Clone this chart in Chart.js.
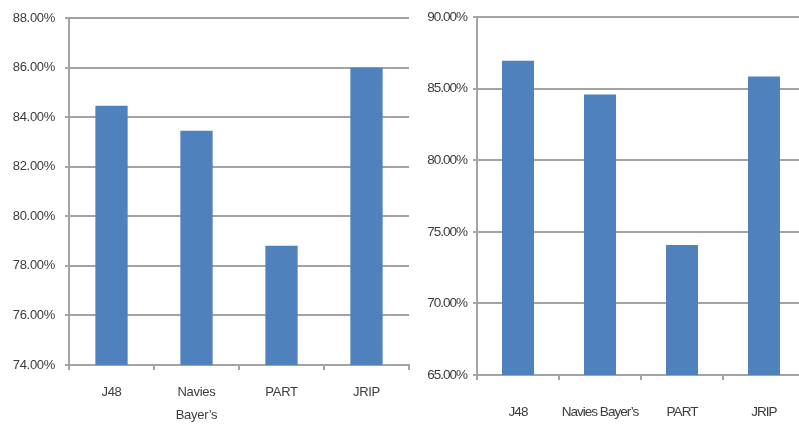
<!DOCTYPE html>
<html>
<head>
<meta charset="utf-8">
<script src="https://cdn.jsdelivr.net/npm/chart.js@4/dist/chart.umd.min.js"></script>
<style>
  html, body { margin: 0; padding: 0; background: #ffffff; overflow: hidden; width: 799px; height: 424px; }
  .box { position: absolute; top: 0; height: 424px; overflow: hidden; }
  #leftBox { left: 0; width: 415px; }
  #rightBox { left: 415px; width: 384px; }
</style>
</head>
<body>
<div class="box" id="leftBox"><canvas id="leftChart" width="415" height="424"></canvas></div>
<div class="box" id="rightBox"><canvas id="rightChart" width="390" height="424"></canvas></div>
<script>
// Classifier accuracy (%) for two evaluation runs
const leftCategories = ['J48', ['Navies', 'Bayer\u2019s'], 'PART', 'JRIP'];
const leftValues = [84.46, 83.45, 78.81, 86.0];
const leftTicks = { min: 74, max: 88, step: 2 };

const rightCategories = ['J48', 'Navies Bayer\u2019s', 'PART', 'JRIP'];
const rightValues = [86.94, 84.59, 74.08, 85.85];
const rightTicks = { min: 65, max: 90, step: 5 };

const BAR = '#4f81bd';
const GRID = '#a3a3a3';
const TEXT = '#3c3c3c';
const FONT = '"Liberation Sans", Arial, sans-serif';

// tighter letter spacing for the condensed axis text
function spacingPlugin(px) {
  return {
    id: 'spacing',
    beforeInit(chart) { chart.ctx.letterSpacing = px; },
    beforeLayout(chart) { chart.ctx.letterSpacing = px; },
    beforeDraw(chart) { chart.ctx.letterSpacing = px; }
  };
}

function makeChart(id, cats, vals, ticks, o) {
  return new Chart(document.getElementById(id), {
    type: 'bar',
    data: {
      labels: cats,
      datasets: [{ data: vals, backgroundColor: BAR, borderWidth: 0,
                   barPercentage: o.barPct, categoryPercentage: 1 }]
    },
    plugins: [spacingPlugin(o.spacing)],
    options: {
      responsive: false,
      animation: false,
      events: [],
      layout: { padding: o.padding },
      plugins: { legend: { display: false }, tooltip: { enabled: false } },
      scales: {
        x: {
          offset: true,
          grid: { display: true, offset: true, drawOnChartArea: false, drawTicks: true,
                  tickLength: 5, color: GRID, lineWidth: 2 },
          border: { display: true, color: GRID, width: 2 },
          ticks: { color: TEXT, font: { family: FONT, size: o.xFont, lineHeight: o.xLine },
                   padding: o.xPad, maxRotation: 0, autoSkip: false },
          afterFit: s => { s.height = o.xHeight; }
        },
        y: {
          min: ticks.min, max: ticks.max,
          grid: { color: GRID, lineWidth: 2, tickLength: 4, drawTicks: true },
          border: { display: true, color: GRID, width: 2 },
          ticks: { stepSize: ticks.step, color: TEXT, padding: o.yPad,
                   font: { family: FONT, size: o.yFont },
                   callback: v => v.toFixed(2) + '%' },
          afterFit: s => { s.width = o.yWidth; }
        }
      }
    }
  });
}

makeChart('leftChart', leftCategories, leftValues, leftTicks, {
  padding: { left: 0, right: 6, top: 18, bottom: 0 },
  yWidth: 69, xHeight: 59, barPct: 0.38, spacing: '-0.3px',
  yFont: 13, xFont: 13, xLine: '23px', xPad: 11, yPad: 10
});

makeChart('rightChart', rightCategories, rightValues, rightTicks, {
  padding: { left: 0, right: 0, top: 17, bottom: 0 },
  yWidth: 62, xHeight: 49, barPct: 0.39, spacing: '-1px',
  yFont: 13.5, xFont: 13.5, xLine: '16px', xPad: 24, yPad: 6
});
</script>
</body>
</html>
